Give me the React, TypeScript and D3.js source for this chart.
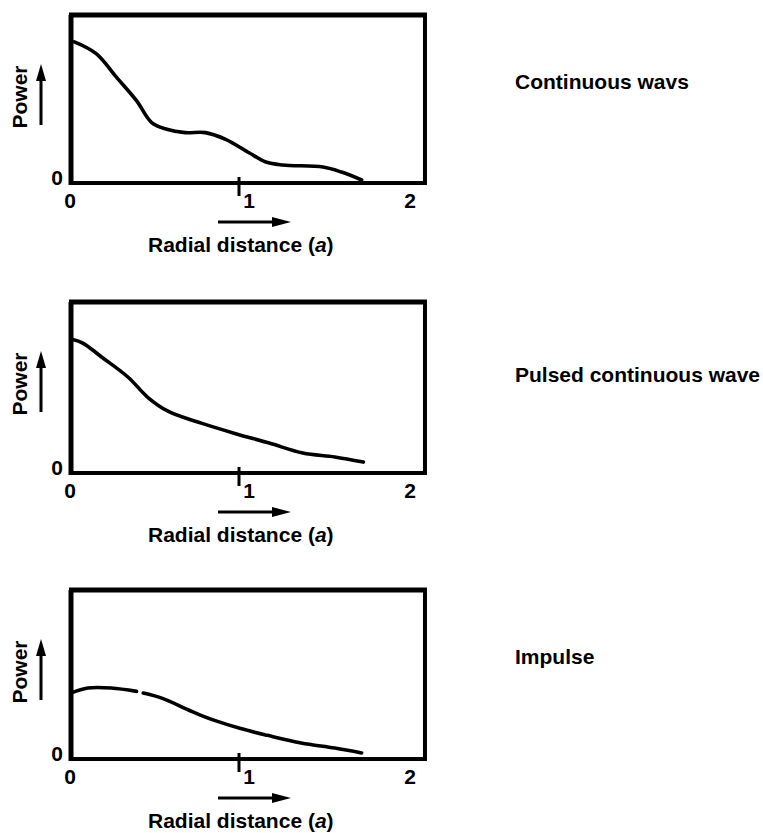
import React from "react";
import * as d3 from "d3";

// ---- Data ----
const panelTitles = ["Continuous wavs", "Pulsed continuous wave", "Impulse"];
const xTickValues = [0, 1, 2];
const xTickLabels = ["0", "1", "2"];
const yZeroLabel = "0";
const yAxisLabel = "Power";
const xAxisLabel = "Radial distance (";
const xAxisVar = "a";

const continuousX = [0.02, 0.15, 0.27, 0.39, 0.48, 0.57, 0.68, 0.8, 0.92, 1.06, 1.16, 1.26, 1.5, 1.61, 1.73];
const continuousY = [0.84, 0.77, 0.63, 0.49, 0.36, 0.32, 0.3, 0.3, 0.26, 0.18, 0.125, 0.107, 0.095, 0.065, 0.018];

const pulsedX = [0.01, 0.07, 0.18, 0.34, 0.46, 0.58, 0.78, 0.98, 1.18, 1.38, 1.57, 1.74];
const pulsedY = [0.78, 0.76, 0.68, 0.56, 0.44, 0.36, 0.29, 0.23, 0.175, 0.117, 0.094, 0.064];

const impulseX = [0.0, 0.1, 0.24, 0.39, 0.41, 0.43, 0.54, 0.7, 0.77, 0.85, 1.01, 1.17, 1.37, 1.57, 1.73];
const impulseY: (number | null)[] = [0.39, 0.42, 0.42, 0.4, null, 0.39, 0.36, 0.29, 0.26, 0.23, 0.18, 0.14, 0.095, 0.065, 0.036];

const seriesX = [continuousX, pulsedX, impulseX];
const seriesY: (number | null)[][] = [continuousY, pulsedY, impulseY];

// ---- Layout ----
const W = 763;
const H = 833;
const panelTop = [15, 302, 590];
const panelBottom = [183, 473, 759];
const titleBaseline = [89, 382, 664];
const plotLeft = 71;
const plotX2 = 407;
const frameRightValue = 2.107;
const FONT = "'Liberation Sans', Arial, Helvetica, sans-serif";

function Panel({ i }: { i: number }) {
  const top = panelTop[i];
  const bottom = panelBottom[i];
  const x = d3.scaleLinear().domain([0, 2]).range([plotLeft, plotX2]);
  const y = d3.scaleLinear().domain([0, 1]).range([bottom, top]);

  const pts = seriesX[i].map((xv, k) => ({ x: xv, y: seriesY[i][k] }));
  const line = d3
    .line<{ x: number; y: number | null }>()
    .defined((d) => d.y !== null)
    .x((d) => x(d.x))
    .y((d) => y(d.y as number))
    .curve(d3.curveCatmullRom.alpha(0.5));

  const left = x(0);
  const right = x(frameRightValue);
  const tickX = x(1);
  const arrowY = bottom + 39;
  const pArrowX = 41;

  return (
    <g>
      {/* frame */}
      <line x1={left - 2} x2={right + 2} y1={top} y2={top} stroke="#000" strokeWidth={5} />
      <line x1={left} x2={left} y1={top} y2={bottom + 2} stroke="#000" strokeWidth={5} />
      <line x1={right} x2={right} y1={top} y2={bottom} stroke="#000" strokeWidth={4} />
      <line x1={left - 2} x2={right + 2} y1={bottom} y2={bottom} stroke="#000" strokeWidth={4} />
      {/* tick at 1 */}
      <line x1={tickX} x2={tickX} y1={bottom - 6} y2={bottom + 13} stroke="#000" strokeWidth={3} />
      {/* curve */}
      <path d={line(pts) || ""} fill="none" stroke="#000" strokeWidth={3.6} strokeLinecap="round" strokeLinejoin="round" />
      {/* tick labels */}
      {xTickValues.map((v, k) => (
        <text
          key={k}
          x={x(v) + (v === 1 ? 10 : v === 2 ? 3 : -1)}
          y={bottom + 25}
          textAnchor="middle"
          fontFamily={FONT}
          fontWeight="bold"
          fontSize={21}
        >
          {xTickLabels[k]}
        </text>
      ))}
      <text x={57} y={bottom + 2} textAnchor="middle" fontFamily={FONT} fontWeight="bold" fontSize={21}>
        {yZeroLabel}
      </text>
      {/* Power label + arrow */}
      <text
        transform={`translate(27,${top + 82}) rotate(-90)`}
        textAnchor="middle"
        fontFamily={FONT}
        fontWeight="bold"
        fontSize={21}
      >
        {yAxisLabel}
      </text>
      <line x1={pArrowX} x2={pArrowX} y1={top + 110} y2={top + 62} stroke="#000" strokeWidth={3} />
      <polygon
        points={`${pArrowX - 5},${top + 66} ${pArrowX + 5},${top + 66} ${pArrowX},${top + 49}`}
        fill="#000"
      />
      {/* x arrow */}
      <line x1={218} x2={276} y1={arrowY} y2={arrowY} stroke="#000" strokeWidth={3} />
      <polygon points={`${272},${arrowY - 5} ${272},${arrowY + 5} ${291},${arrowY}`} fill="#000" />
      {/* x label */}
      <text x={148} y={bottom + 69} fontFamily={FONT} fontWeight="bold" fontSize={21}>
        {xAxisLabel}
        <tspan fontStyle="italic">{xAxisVar}</tspan>)
      </text>
      {/* title */}
      <text x={515} y={titleBaseline[i]} fontFamily={FONT} fontWeight="bold" fontSize={21}>
        {panelTitles[i]}
      </text>
    </g>
  );
}

export default function App() {
  return (
    <svg width={W} height={H} style={{ position: "absolute", left: 0, top: 0, background: "#fff" }}>
      <rect x={0} y={0} width={W} height={H} fill="#fff" />
      {panelTitles.map((_, i) => (
        <Panel key={i} i={i} />
      ))}
    </svg>
  );
}
